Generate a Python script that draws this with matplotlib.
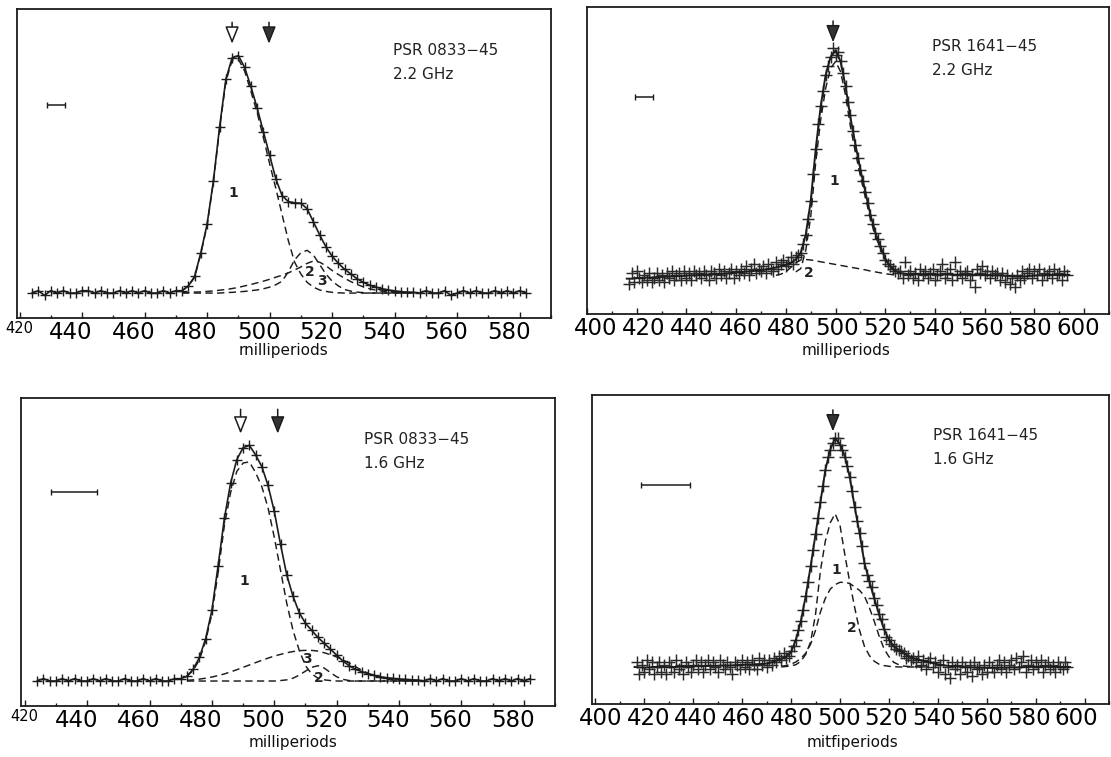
import numpy as np
import matplotlib
matplotlib.use("Agg")
import matplotlib.pyplot as plt
from matplotlib.transforms import ScaledTranslation

# ---------------- data (normalised intensity; baseline = 0, peak = 1) ----------------
# Panel A : PSR 0833-45, 2.2 GHz
a_x = np.arange(424, 584, 2)
a_obs = [0.00, 0.01, -0.01, 0.01, 0.00, 0.01, 0.00, 0.00, 0.01, 0.01, 0.00, 0.01,
         0.00, 0.00, 0.01, 0.00, 0.01, 0.00, 0.01, 0.00, 0.00, 0.01, 0.00, 0.01,
         0.01, 0.03, 0.07, 0.17, 0.29, 0.47, 0.70, 0.90, 0.99, 1.00,
         0.95, 0.87, 0.78, 0.68, 0.58, 0.48, 0.41, 0.385, 0.38, 0.378,
         0.355, 0.30, 0.245, 0.195, 0.155, 0.125, 0.10, 0.08, 0.06, 0.045,
         0.033, 0.025, 0.018, 0.013, 0.009, 0.006, 0.004, 0.003,
         0.00, 0.01, 0.00, 0.00, 0.01, -0.01, 0.00, 0.01, 0.00,
         0.01, 0.00, 0.00, 0.01, 0.00, 0.01, 0.00, 0.01, 0.00]
a_comp_x = np.arange(472, 548, 2)
a_comp1 = [0.01, 0.03, 0.065, 0.165, 0.285, 0.465, 0.69, 0.89, 0.98, 0.985,
           0.935, 0.85, 0.76, 0.655, 0.545, 0.44, 0.33, 0.22, 0.13, 0.08,
           0.045, 0.025, 0.013, 0.007, 0.003, 0.001, 0, 0, 0, 0,
           0, 0, 0, 0, 0, 0, 0, 0]
a_comp2 = [0, 0, 0, 0, 0, 0, 0, 0.002, 0.003, 0.005,
           0.007, 0.01, 0.013, 0.018, 0.025, 0.035, 0.05, 0.09, 0.14, 0.17,
           0.18, 0.16, 0.12, 0.08, 0.05, 0.03, 0.015, 0.008, 0.004, 0.002,
           0, 0, 0, 0, 0, 0, 0, 0]
a_comp3 = [0.002, 0.003, 0.004, 0.005, 0.007, 0.009, 0.012, 0.015, 0.019, 0.024,
           0.03, 0.036, 0.043, 0.05, 0.058, 0.067, 0.075, 0.085, 0.097, 0.11,
           0.125, 0.135, 0.13, 0.115, 0.095, 0.078, 0.062, 0.048, 0.036, 0.026,
           0.018, 0.012, 0.008, 0.005, 0.003, 0.002, 0.001, 0]

# Panel B : PSR 1641-45, 2.2 GHz
b_x = np.arange(417, 594, 1)
b_obs = [-0.04, 0.01, -0.03, 0.02, -0.01, -0.03, 0.00, -0.02, 0.01, -0.03, -0.01, 0.01,
         -0.02, 0.00, -0.03, 0.01, -0.01, 0.02, -0.02, 0.00, 0.01, -0.02, 0.02, -0.01,
         0.01, -0.02, 0.02, 0.00, 0.01, -0.01, 0.02, 0.00, -0.02, 0.02, 0.01, -0.01, 0.03, 0.00, 0.02,
         -0.01, 0.01, 0.03, -0.01, 0.02, 0.00, 0.03, 0.01, 0.04, 0.00, 0.03, 0.05, 0.01, 0.03, 0.02,
         0.04, 0.01, 0.05, 0.03, 0.02, 0.06, 0.03, 0.05, 0.07, 0.04, 0.06, 0.08, 0.05, 0.08,
         0.09, 0.10, 0.14, 0.18, 0.25, 0.33, 0.45, 0.56, 0.67, 0.75, 0.82, 0.89, 0.93, 0.97,
         1.01, 0.98, 0.99, 0.95, 0.90, 0.84, 0.77, 0.71, 0.64, 0.58, 0.52, 0.47, 0.42, 0.37,
         0.32, 0.27, 0.23, 0.19, 0.16, 0.13, 0.10, 0.07, 0.05, 0.04, 0.03, 0.02, 0.01,
         0.02, -0.01, 0.06, 0.00, 0.02, -0.01, 0.01, -0.02, 0.03, 0.00, 0.02, -0.01, 0.01, 0.03,
         -0.02, 0.00, 0.02, 0.05, -0.01, 0.01, 0.03, -0.02, 0.06, 0.00, 0.02, -0.01, 0.01, 0.02,
         -0.02, 0.00, -0.05, 0.03, 0.01, 0.04, 0.00, 0.02, -0.01, 0.02, 0.00, 0.01, -0.02, 0.01,
         -0.03, 0.00, -0.04, -0.01, -0.05, 0.00, -0.02, 0.02, -0.01, 0.01, 0.03, -0.01, 0.02, 0.00,
         0.03, -0.02, 0.01, 0.00, 0.02, -0.01, 0.03, 0.00, 0.01, -0.02, 0.02, 0.00]
b_fit_x = np.arange(416, 596, 2)
b_fit = [-0.015, -0.015, -0.012, -0.012, -0.01, -0.01, -0.008, -0.008, -0.006, -0.005, -0.004, -0.003, -0.002,
         0.0, 0.0, 0.002, 0.003, 0.004, 0.005, 0.006, 0.008, 0.01, 0.012, 0.014, 0.016, 0.018, 0.02, 0.023,
         0.026, 0.03, 0.035, 0.04, 0.046, 0.055, 0.07, 0.10, 0.18, 0.33, 0.56, 0.75, 0.89, 0.97, 1.0, 0.95,
         0.84, 0.70, 0.58, 0.47, 0.37, 0.27, 0.19, 0.13, 0.075, 0.04, 0.02, 0.01, 0.006, 0.005, 0.005, 0.005,
         0.005, 0.005, 0.004, 0.004, 0.004, 0.003, 0.003, 0.003, 0.002, 0.002, 0.002, 0.002, 0.001, 0.001, 0.0,
         0.0, -0.002, -0.004, -0.006, -0.006, -0.005, -0.003, -0.001, 0.0, 0.001, 0.002, 0.002, 0.002, 0.002, 0.002]
b_comp1_x = np.arange(484, 526, 2)
b_comp1 = [0.015, 0.03, 0.11, 0.26, 0.50, 0.69, 0.83, 0.92, 0.95, 0.905, 0.80,
           0.66, 0.545, 0.44, 0.345, 0.25, 0.175, 0.12, 0.068, 0.036, 0.018]
b_comp2_x = np.arange(476, 526, 2)
b_comp2 = [0.0, 0.005, 0.015, 0.035, 0.055, 0.068, 0.07, 0.068, 0.064, 0.06, 0.056, 0.052, 0.048,
           0.044, 0.04, 0.036, 0.032, 0.028, 0.024, 0.019, 0.015, 0.011, 0.007, 0.004, 0.002]

# Panel C : PSR 0833-45, 1.6 GHz
c_x = np.arange(424, 584, 2)
c_obs = [0.00, 0.01, 0.00, 0.00, 0.01, 0.00, 0.01, 0.00, 0.00, 0.01, 0.00, 0.01,
         0.00, 0.00, 0.01, 0.00, 0.00, 0.01, 0.00, 0.01, 0.00, 0.00, 0.01, 0.01,
         0.02, 0.05, 0.10, 0.18, 0.30, 0.49, 0.69, 0.84, 0.94, 0.99,
         1.00, 0.96, 0.91, 0.83, 0.72, 0.58, 0.45, 0.36, 0.29, 0.245,
         0.215, 0.185, 0.16, 0.135, 0.11, 0.085, 0.065, 0.05, 0.04, 0.031,
         0.024, 0.018, 0.014, 0.011, 0.008, 0.007, 0.005, 0.004,
         0.00, 0.01, 0.00, 0.01, 0.00, 0.00, 0.01, 0.00, 0.01,
         0.00, 0.00, 0.01, 0.00, 0.01, 0.00, 0.01, 0.00, 0.01]
c_comp_x = np.arange(472, 548, 2)
c_comp1 = [0.02, 0.045, 0.09, 0.17, 0.285, 0.46, 0.66, 0.80, 0.89, 0.925,
           0.93, 0.885, 0.825, 0.735, 0.61, 0.47, 0.33, 0.215, 0.13, 0.065,
           0.03, 0.012, 0.005, 0.002, 0, 0, 0, 0, 0, 0,
           0, 0, 0, 0, 0, 0, 0, 0]
c_comp2 = [0, 0, 0, 0, 0, 0, 0, 0, 0, 0,
           0, 0, 0, 0, 0, 0.002, 0.005, 0.012, 0.025, 0.042,
           0.058, 0.065, 0.055, 0.036, 0.018, 0.007, 0.002, 0, 0, 0,
           0, 0, 0, 0, 0, 0, 0, 0]
c_comp3 = [0.003, 0.005, 0.008, 0.012, 0.017, 0.023, 0.03, 0.039, 0.048, 0.058,
           0.068, 0.078, 0.088, 0.097, 0.106, 0.113, 0.12, 0.125, 0.129, 0.13,
           0.13, 0.127, 0.12, 0.112, 0.102, 0.09, 0.076, 0.061, 0.046, 0.033,
           0.022, 0.014, 0.008, 0.005, 0.003, 0.002, 0.001, 0]

# Panel D : PSR 1641-45, 1.6 GHz
d_x = np.arange(417, 594, 1)
d_obs = [0.02, -0.03, 0.01, -0.02, 0.03, -0.01, 0.02, -0.03, 0.00, 0.02, -0.02, 0.01,
         -0.03, 0.02, 0.00, -0.02, 0.03, -0.01, 0.01, -0.03, 0.02, 0.00, -0.02, 0.01,
         0.03, -0.01, 0.02, -0.02, 0.01, 0.03, -0.01, 0.02, 0.00, -0.02, 0.03, 0.01, -0.01, 0.02, 0.00,
         -0.03, 0.02, 0.01, -0.01, 0.03, 0.00, 0.02, -0.01, 0.03, 0.01, -0.01, 0.04, 0.01, 0.03, 0.00,
         0.03, 0.01, 0.04, 0.02, 0.05, 0.03, 0.06, 0.04, 0.05, 0.07, 0.09, 0.12, 0.16,
         0.20, 0.25, 0.31, 0.37, 0.44, 0.51, 0.58, 0.65, 0.72, 0.79, 0.86, 0.92, 0.95, 0.98, 1.00,
         1.00, 0.97, 0.95, 0.92, 0.88, 0.83, 0.77, 0.70, 0.64, 0.585, 0.53, 0.455, 0.40, 0.375, 0.35,
         0.30, 0.27, 0.23, 0.21, 0.165, 0.13, 0.12, 0.10, 0.09, 0.08, 0.075, 0.07, 0.06, 0.04, 0.05,
         0.03, 0.04,
         0.02, 0.05, 0.01, 0.03, -0.01, 0.02, 0.04, 0.00, 0.02, -0.02, 0.01, 0.03, -0.03, 0.00, -0.05,
         0.02, -0.01, 0.01, -0.03, 0.02, 0.00, -0.02, 0.01, -0.04, 0.02, -0.01, 0.00, -0.03, 0.01, -0.02,
         0.02, 0.00, -0.02, 0.01, 0.03, -0.01, 0.02, -0.02, 0.01, 0.03, -0.01, 0.04, 0.00, 0.02, 0.05,
         -0.02, 0.01, 0.03, -0.01, 0.02, 0.00, 0.03, -0.02, 0.01, 0.02, -0.01, 0.01, -0.02, 0.02, 0.00,
         -0.01, 0.02, 0.00]
d_fit_x = np.arange(416, 596, 2)
d_fit = [0.0, -0.002, -0.003, -0.002, 0.0, 0.001, 0.0, -0.001, 0.0, 0.001, 0.002, 0.002, 0.003, 0.003,
         0.004, 0.004, 0.005, 0.005, 0.006, 0.006, 0.007, 0.008, 0.009, 0.01, 0.011, 0.012, 0.013, 0.015,
         0.02, 0.028, 0.035, 0.045, 0.065, 0.12, 0.20, 0.31, 0.44, 0.58, 0.72, 0.86, 0.95, 1.0, 0.975,
         0.92, 0.83, 0.70, 0.585, 0.455, 0.375, 0.30, 0.23, 0.165, 0.12, 0.09, 0.075, 0.06, 0.048, 0.038,
         0.032, 0.027, 0.022, 0.017, 0.012, 0.008, 0.005,
         0.003, 0.002, 0.0, -0.001, -0.002, -0.003, -0.003, -0.004, -0.004, -0.004, -0.003, -0.003, -0.002,
         -0.002, -0.001, 0.0, 0.0, 0.001, 0.001, 0.001, 0.0, 0.0, 0.0, 0.0, 0.0]
d_comp_x = np.arange(476, 538, 2)
d_comp1 = [0.0, 0.002, 0.005, 0.01, 0.025, 0.055, 0.11, 0.23, 0.42, 0.55, 0.63, 0.67, 0.62, 0.49, 0.37,
           0.26, 0.16, 0.09, 0.05, 0.025, 0.012, 0.006, 0.003, 0.001, 0, 0, 0, 0, 0, 0, 0]
d_comp2 = [0.003, 0.006, 0.012, 0.022, 0.037, 0.06, 0.10, 0.16, 0.24, 0.30, 0.34, 0.36, 0.37, 0.37, 0.365,
           0.35, 0.335, 0.31, 0.26, 0.20, 0.135, 0.08, 0.045, 0.02, 0.01, 0.004, 0.002, 0.001, 0, 0, 0]

# annotations per panel (A, B, C, D)
psr_names = ["PSR 0833\u221245", "PSR 1641\u221245", "PSR 0833\u221245", "PSR 1641\u221245"]
freqs = ["2.2 GHz", "2.2 GHz", "1.6 GHz", "1.6 GHz"]
x_titles = ["rnilliperiods", "milliperiods", "milliperiods", "mitfiperiods"]
open_arrow_x = [488.0, None, 489.2, None]
filled_arrow_x = [499.8, 499.0, 501.1, 497.1]
res_bars = [(428.9, 434.6), (419.3, 426.7), (428.3, 443.3), (418.6, 438.6)]
comp_labels = [[("1", 488.4, 0.42), ("2", 512.8, 0.09), ("3", 516.8, 0.05)],
               [("1", 499.3, 0.417), ("2", 489.3, 0.009)],
               [("1", 490.4, 0.424), ("3", 510.5, 0.092), ("2", 514.2, 0.014)],
               [("1", 498.6, 0.426), ("2", 505.0, 0.17)]]

# ---------------- layout ----------------
W, H = 1111, 757
fig = plt.figure(figsize=(W / 100, H / 100), dpi=100)
INK = "#1c1c1c"


def px_axes(l, t, r, b):
    return fig.add_axes([l / W, 1 - b / H, (r - l) / W, (b - t) / H])


axA = px_axes(17, 9, 551, 318)
axB = px_axes(587, 7, 1109, 314)
axC = px_axes(21, 398, 555, 706)
axD = px_axes(592, 395, 1109, 704)
axes = [axA, axB, axC, axD]

xlims = [(419.2, 589.9), (400.2, 609.6), (418.8, 589.9), (398.6, 606.9)]
ylims = [(-0.105, 1.196), (-0.172, 1.192), (-0.106, 1.201), (-0.162, 1.189)]
arrow_tops = [(1.14, 1.05), (1.13, 1.035), (1.153, 1.05), (1.124, 1.03)]
text_pos = [(539.4, 1.02, 0.92), (538.6, 1.015, 0.91), (528.9, 1.023, 0.922), (538.1, 1.01, 0.908)]
bar_y = [0.793, 0.79, 0.803, 0.794]
xtitle_px = [(284, 351), (846, 351), (293, 743), (852, 743)]

dash = (5, 3)

# panel A
axA.plot(a_x, a_obs, '-', color=INK, lw=1.2, marker='+', ms=7.5, mew=1.0)
for comp in (a_comp1, a_comp2, a_comp3):
    axA.plot(a_comp_x, comp, color=INK, lw=1.05, dashes=dash)

# panel B
axB.plot(b_x, b_obs, ls='none', color='#2a2a2a', marker='+', ms=8.5, mew=1.05)
axB.plot(b_fit_x, b_fit, '-', color=INK, lw=1.4)
axB.plot(b_comp1_x, b_comp1, color=INK, lw=1.05, dashes=dash)
axB.plot(b_comp2_x, b_comp2, color=INK, lw=1.05, dashes=dash)

# panel C
axC.plot(c_x, c_obs, '-', color=INK, lw=1.2, marker='+', ms=7.5, mew=1.0)
for comp in (c_comp1, c_comp2, c_comp3):
    axC.plot(c_comp_x, comp, color=INK, lw=1.05, dashes=dash)

# panel D
axD.plot(d_x, d_obs, ls='none', color='#2a2a2a', marker='+', ms=8.5, mew=1.05)
axD.plot(d_fit_x, d_fit, '-', color=INK, lw=1.4)
axD.plot(d_comp_x, d_comp1, color=INK, lw=1.05, dashes=dash)
axD.plot(d_comp_x, d_comp2, color=INK, lw=1.05, dashes=dash)

for i, ax in enumerate(axes):
    ax.set_xlim(*xlims[i])
    ax.set_ylim(*ylims[i])
    ax.set_yticks([])
    for s in ax.spines.values():
        s.set_linewidth(1.3)
        s.set_color(INK)
    if i in (0, 2):
        ax.set_xticks(np.arange(420, 600, 20))
        ax.set_xticks(np.arange(430, 600, 20), minor=True)
    else:
        ax.set_xticks(np.arange(400, 620, 20))
        ax.set_xticks(np.arange(410, 620, 20), minor=True)
    ax.tick_params(axis='x', which='both', direction='in', top=False, bottom=True,
                   labelsize=16.5, pad=2.5, color=INK, width=1.0)
    ax.tick_params(axis='x', which='major', length=4.5)
    ax.tick_params(axis='x', which='minor', length=2.5)
    # shift printed tick labels to where they sit in the scan
    ticks = ax.xaxis.get_major_ticks()
    for t, v in zip(ticks, ax.get_xticks()):
        if i in (0, 2):
            dx = 0 if v == 420 else -11
            if v == 420:
                t.label1.set_fontsize(10.5)
        elif i == 1:
            dx = 8.5 - 14.5 * (v - 400) / 200
        else:
            dx = 5.5 - 13.5 * (v - 400) / 200
        t.label1.set_transform(t.label1.get_transform() +
                               ScaledTranslation(dx / 100, 0, fig.dpi_scale_trans))

    # arrows
    top, tip = arrow_tops[i]
    if open_arrow_x[i] is not None:
        ax.annotate('', xy=(open_arrow_x[i], tip), xytext=(open_arrow_x[i], top),
                    arrowprops=dict(arrowstyle='-|>,head_length=0.75,head_width=0.3',
                                    fc='white', ec=INK, lw=1.1, shrinkA=0, shrinkB=0,
                                    mutation_scale=14))
    ax.annotate('', xy=(filled_arrow_x[i], tip), xytext=(filled_arrow_x[i], top),
                arrowprops=dict(arrowstyle='-|>,head_length=0.75,head_width=0.3',
                                fc='#333333', ec=INK, lw=1.1, shrinkA=0, shrinkB=0,
                                mutation_scale=14))
    # resolution bar
    lo, hi = res_bars[i]
    ax.errorbar([(lo + hi) / 2], [bar_y[i]], xerr=[(hi - lo) / 2], fmt='none',
                ecolor=INK, elinewidth=1.1, capsize=2.5, capthick=1.0)
    # source text
    tx, ty1, ty2 = text_pos[i]
    ax.text(tx, ty1, psr_names[i], fontsize=11, color='#222222', ha='left', va='center')
    ax.text(tx, ty2, freqs[i], fontsize=11, color='#222222', ha='left', va='center')
    for lab, lx, ly in comp_labels[i]:
        ax.text(lx, ly, lab, fontsize=10, fontweight='bold', color='#222222',
                ha='center', va='center')
    # axis title
    fx, fy = xtitle_px[i]
    fig.text(fx / W, 1 - fy / H, x_titles[i], fontsize=11, color='#111111',
             ha='center', va='center')

fig.savefig("out.png", dpi=100, facecolor='white')
